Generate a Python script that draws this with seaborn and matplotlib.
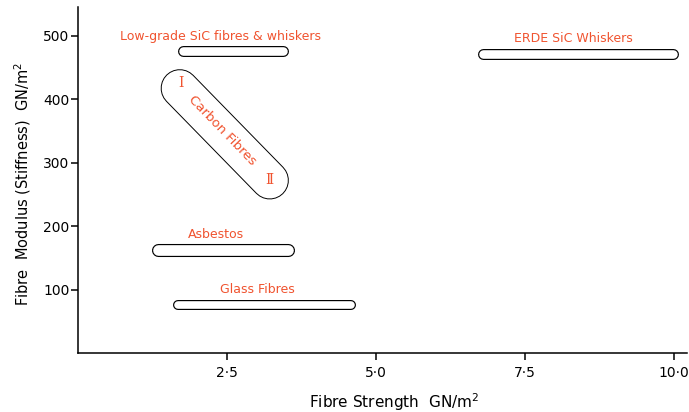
import matplotlib
matplotlib.use("Agg")
import matplotlib.pyplot as plt
import seaborn as sns
import pandas as pd

# ---- data ----
categories = ["Low-grade SiC fibres & whiskers", "ERDE SiC Whiskers", "Asbestos", "Glass Fibres"]
strength_min = [1.77, 6.80, 1.35, 1.68]   # GN/m2
strength_max = [3.45, 9.99, 3.52, 4.58]   # GN/m2
modulus = [475, 471, 162, 76]             # GN/m2

carbon_name = "Carbon Fibres"
carbon_strength = [1.71, 3.22]
carbon_modulus = [417, 272]
carbon_types = ["I", "\u2161"]

x_ticks = [2.5, 5.0, 7.5, 10.0]
x_ticklabels = ["2\u00b75", "5\u00b70", "7\u00b75", "10\u00b70"]
y_ticks = [100, 200, 300, 400, 500]

# ---- style ----
sns.set_theme(style="ticks")
plt.rcParams["font.family"] = ["DejaVu Sans"]
RED = "#f0532f"

fig = plt.figure(figsize=(6.89, 4.12), dpi=100)
ax = fig.add_axes([0.113, 0.143, 0.884, 0.84])

# capsule heights (pt) per bar
cap_lw = [7.9, 7.9, 9.4, 7.2]
for name, x0, x1, y, lw in zip(categories, strength_min, strength_max, modulus, cap_lw):
    df = pd.DataFrame({"strength": [x0, x1], "modulus": [y, y]})
    sns.lineplot(data=df, x="strength", y="modulus", ax=ax, color="black", lw=lw,
                 solid_capstyle="round", estimator=None, sort=False, zorder=2)
    sns.lineplot(data=df, x="strength", y="modulus", ax=ax, color="white", lw=lw - 1.7,
                 solid_capstyle="round", estimator=None, sort=False, zorder=3)

dfc = pd.DataFrame({"strength": carbon_strength, "modulus": carbon_modulus})
sns.lineplot(data=dfc, x="strength", y="modulus", ax=ax, color="black", lw=27.5,
             solid_capstyle="round", estimator=None, sort=False, zorder=2)
sns.lineplot(data=dfc, x="strength", y="modulus", ax=ax, color="white", lw=26.1,
             solid_capstyle="round", estimator=None, sort=False, zorder=3)

# labels
label_pos = [(2.40, 499), (8.32, 496), (2.32, 186), (3.02, 100)]
for name, (lx, ly) in zip(categories, label_pos):
    ax.text(lx, ly, name, color=RED, fontsize=9, ha="center", va="center", zorder=5)
ax.text(2.43, 351, carbon_name, color=RED, fontsize=9.5, ha="center", va="center",
        rotation=-46, rotation_mode="anchor", zorder=5)
for t, cx, cy in zip(carbon_types, [1.73, 3.22], [425, 272]):
    ax.text(cx, cy, t, color=RED, fontsize=10, ha="center", va="center",
            family=["DejaVu Serif"], zorder=5)

ax.set_xlim(0, 10.22)
ax.set_ylim(0, 545)
ax.set_xticks(x_ticks)
ax.set_xticklabels(x_ticklabels)
ax.set_yticks(y_ticks)
ax.tick_params(axis="both", labelsize=10, colors="black", length=5, width=1.1, direction="out")
ax.tick_params(axis="x", pad=4)
ax.tick_params(axis="y", pad=1)
sns.despine(ax=ax)
for s in ["left", "bottom"]:
    ax.spines[s].set_color("black")
    ax.spines[s].set_linewidth(1.1)

ax.set_xlabel("Fibre Strength  GN/m$^2$", fontsize=11, color="black")
ax.set_ylabel("Fibre  Modulus (Stiffness)  GN/m$^2$", fontsize=10.5, color="black")
ax.xaxis.set_label_coords(0.52, -0.11)
ax.yaxis.set_label_coords(-0.074, 0.49)

fig.savefig("out.png", dpi=100, facecolor="white")
